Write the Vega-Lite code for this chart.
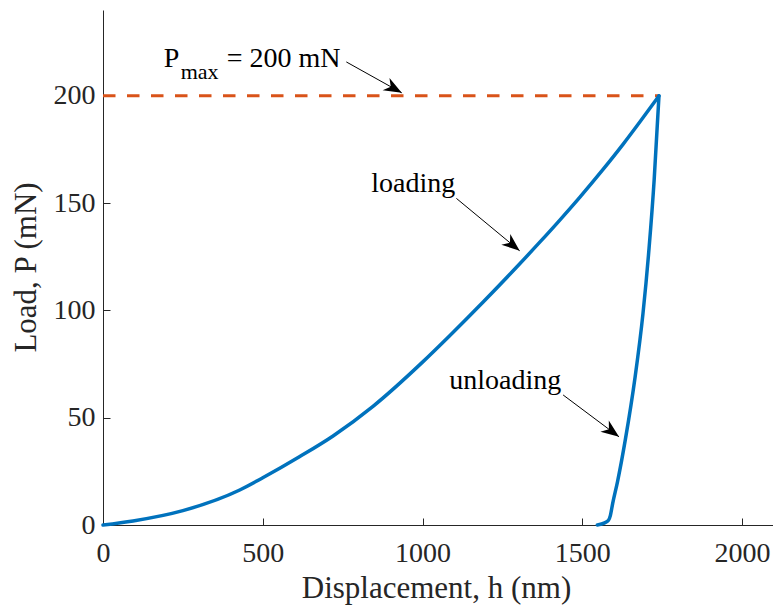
{
  "$schema": "https://vega.github.io/schema/vega-lite/v6.json",
  "autosize": "none",
  "padding": {"left": 103, "top": 10, "right": 0, "bottom": 83},
  "width": 671,
  "height": 515,
  "background": "white",
  "config": {
    "view": {"stroke": null},
    "font": "Liberation Serif",
    "axis": {
      "grid": false,
      "domainColor": "#262626",
      "domainWidth": 1,
      "tickColor": "#262626",
      "tickWidth": 1,
      "tickSize": -7,
      "labelColor": "#262626",
      "titleColor": "#262626",
      "labelFont": "Liberation Serif",
      "titleFont": "Liberation Serif",
      "labelFontSize": 28,
      "titleFontSize": 31,
      "titleFontWeight": "normal",
      "labelFlush": false,
      "labelOverlap": false
    }
  },
  "layer": [
    {
      "data": {"values": [{"h": 0, "P": 200, "h2": 1740}]},
      "mark": {"type": "rule", "color": "#D95319", "strokeWidth": 3, "strokeDash": [12.5, 11.5]},
      "encoding": {
        "x": {"field": "h", "type": "quantitative", "scale": {"domain": [0, 2100], "nice": false}, "axis": {"values": [0, 500, 1000, 1500, 2000], "format": "d", "title": "Displacement, h (nm)", "labelPadding": 21, "titleX": 333, "titleY": 72, "titleBaseline": "alphabetic"}},
        "x2": {"field": "h2"},
        "y": {"field": "P", "type": "quantitative", "scale": {"domain": [0, 240], "nice": false}, "axis": {"values": [0, 50, 100, 150, 200], "format": "d", "title": "Load, P (mN)", "labelPadding": 15, "titleX": -68, "titleY": 257, "titleAngle": -90, "titleAlign": "center", "titleBaseline": "alphabetic"}}
      }
    },
    {
      "data": {"values": [
        {"phase": "loading", "h": 0, "P": 0},
        {"phase": "loading", "h": 94, "P": 1.9},
        {"phase": "loading", "h": 250, "P": 6.7},
        {"phase": "loading", "h": 428, "P": 16.3},
        {"phase": "loading", "h": 500, "P": 22.0},
        {"phase": "loading", "h": 616, "P": 31.9},
        {"phase": "loading", "h": 720, "P": 41.5},
        {"phase": "loading", "h": 845, "P": 55.3},
        {"phase": "loading", "h": 1000, "P": 75.9},
        {"phase": "loading", "h": 1085, "P": 88.2},
        {"phase": "loading", "h": 1189, "P": 103.8},
        {"phase": "loading", "h": 1294, "P": 120.1},
        {"phase": "loading", "h": 1367, "P": 131.8},
        {"phase": "loading", "h": 1429, "P": 142.0},
        {"phase": "loading", "h": 1492, "P": 152.7},
        {"phase": "loading", "h": 1565, "P": 165.7},
        {"phase": "loading", "h": 1628, "P": 177.5},
        {"phase": "loading", "h": 1680, "P": 187.8},
        {"phase": "loading", "h": 1740, "P": 200},
        {"phase": "unloading", "h": 1740, "P": 200},
        {"phase": "unloading", "h": 1725, "P": 161},
        {"phase": "unloading", "h": 1709, "P": 129},
        {"phase": "unloading", "h": 1690, "P": 98.6},
        {"phase": "unloading", "h": 1665, "P": 68.6},
        {"phase": "unloading", "h": 1635, "P": 40},
        {"phase": "unloading", "h": 1610, "P": 20},
        {"phase": "unloading", "h": 1595, "P": 10},
        {"phase": "unloading", "h": 1588, "P": 4.5},
        {"phase": "unloading", "h": 1582, "P": 2.2},
        {"phase": "unloading", "h": 1570, "P": 1.0},
        {"phase": "unloading", "h": 1547, "P": 0}
      ]},
      "mark": {"type": "line", "color": "#0072BD", "strokeWidth": 3.5, "strokeJoin": "round", "strokeCap": "round", "interpolate": "monotone"},
      "encoding": {
        "x": {"field": "h", "type": "quantitative"},
        "y": {"field": "P", "type": "quantitative"},
        "detail": {"field": "phase"}
      }
    },
    {
      "data": {"values": [
        {"h": 761.5, "P": 215.8, "h2": 935, "P2": 201.4},
        {"h": 1106, "P": 152.2, "h2": 1304, "P2": 127.8},
        {"h": 1440, "P": 60.6, "h2": 1615, "P2": 41.1}
      ]},
      "mark": {"type": "rule", "color": "black", "strokeWidth": 1},
      "encoding": {
        "x": {"field": "h", "type": "quantitative"},
        "y": {"field": "P", "type": "quantitative"},
        "x2": {"field": "h2"},
        "y2": {"field": "P2"}
      }
    },
    {
      "data": {"values": [{"h": 935, "P": 201.4}]},
      "mark": {"type": "point", "shape": "M0,0L-1,-0.39L-0.7,0L-1,0.39Z", "size": 1296, "angle": 29.2, "filled": true, "color": "black", "opacity": 1},
      "encoding": {"x": {"field": "h", "type": "quantitative"}, "y": {"field": "P", "type": "quantitative"}}
    },
    {
      "data": {"values": [{"h": 1304, "P": 127.8}]},
      "mark": {"type": "point", "shape": "M0,0L-1,-0.39L-0.7,0L-1,0.39Z", "size": 1296, "angle": 39.6, "filled": true, "color": "black", "opacity": 1},
      "encoding": {"x": {"field": "h", "type": "quantitative"}, "y": {"field": "P", "type": "quantitative"}}
    },
    {
      "data": {"values": [{"h": 1615, "P": 41.1}]},
      "mark": {"type": "point", "shape": "M0,0L-1,-0.39L-0.7,0L-1,0.39Z", "size": 1296, "angle": 36.7, "filled": true, "color": "black", "opacity": 1},
      "encoding": {"x": {"field": "h", "type": "quantitative"}, "y": {"field": "P", "type": "quantitative"}}
    },
    {
      "data": {"values": [
        {"h": 971, "P": 155.1, "label": "loading"},
        {"h": 1259, "P": 63.2, "label": "unloading"}
      ]},
      "mark": {"type": "text", "font": "Liberation Serif", "fontSize": 28, "color": "black", "align": "center", "baseline": "alphabetic"},
      "encoding": {"x": {"field": "h", "type": "quantitative"}, "y": {"field": "P", "type": "quantitative"}, "text": {"field": "label"}}
    },
    {
      "data": {"values": [
        {"h": 190, "P": 213.4, "label": "P"},
        {"h": 387, "P": 213.4, "label": "= 200 mN"}
      ]},
      "mark": {"type": "text", "font": "Liberation Serif", "fontSize": 28, "color": "black", "align": "left", "baseline": "alphabetic"},
      "encoding": {"x": {"field": "h", "type": "quantitative"}, "y": {"field": "P", "type": "quantitative"}, "text": {"field": "label"}}
    },
    {
      "data": {"values": [{"h": 243, "P": 207.8, "label": "max"}]},
      "mark": {"type": "text", "font": "Liberation Serif", "fontSize": 22, "color": "black", "align": "left", "baseline": "alphabetic"},
      "encoding": {"x": {"field": "h", "type": "quantitative"}, "y": {"field": "P", "type": "quantitative"}, "text": {"field": "label"}}
    }
  ]
}
